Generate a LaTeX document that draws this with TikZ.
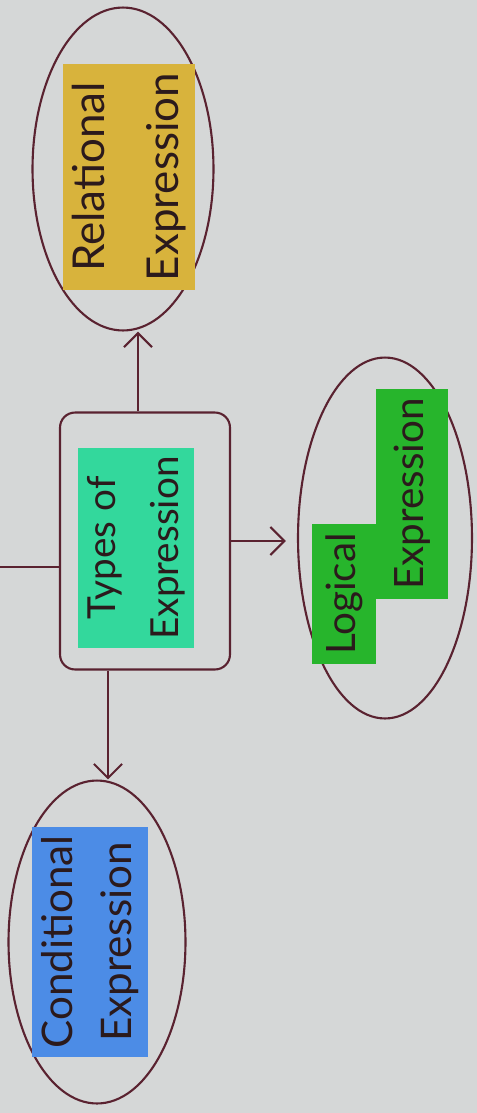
\documentclass[tikz,border=0pt]{standalone}
\usepackage{fontspec}
\setmainfont{Lato}
\usetikzlibrary{shapes.geometric,arrows.meta}
\definecolor{paper}{HTML}{D5D7D7}
\definecolor{ink}{HTML}{5A2230}
\definecolor{pen}{HTML}{2B1A1C}
\definecolor{yellowhl}{HTML}{D8B33C}
\definecolor{mint}{HTML}{33D89C}
\definecolor{greenhl}{HTML}{27B52C}
\definecolor{bluehl}{HTML}{4C8CE6}
\tikzset{
  blob/.style={draw=ink, line width=1.2pt, ellipse, rotate=90},
  box/.style={draw=ink, line width=1.2pt, rectangle, rounded corners=0.3cm, rotate=90},
  hl/.style={rotate=90, text=pen, align=center, inner sep=5pt},
  conn/.style={draw=ink, line width=1.2pt, -{Straight Barb[length=8pt,width=16pt]}}
}

\begin{document}
\begin{tikzpicture}[x=0.02cm,y=-0.02cm]
  \fill[paper] (0,0) rectangle (477,1113);
  \useasboundingbox (0,0) rectangle (477,1113);

  \node[blob, minimum width=6.46cm, minimum height=3.62cm] (rel) at (123,169) {};
  \node[hl, fill=yellowhl, font=\fontsize{25}{42}\selectfont] (reltext) at (129,177) {Relational\\Expression};

  \node[box, minimum width=5.14cm, minimum height=3.4cm] (types) at (145,541) {};
  \node[hl, fill=mint, font=\fontsize{22}{36}\selectfont] (typestext) at (136,548) {Types of\\Expression};

  \node[blob, minimum width=7.22cm, minimum height=3.48cm] (logical) at (385,538) {};
  \node[hl, fill=greenhl, font=\fontsize{23}{30}\selectfont, minimum height=1.3cm] (logicaltext) at (344,594) {Logical};
  \node[hl, fill=greenhl, font=\fontsize{23}{30}\selectfont, minimum height=1.46cm] (exprtext) at (412,494) {Expression};

  \node[blob, minimum width=6.46cm, minimum height=3.54cm] (cond) at (97,942) {};
  \node[hl, fill=bluehl, font=\fontsize{24}{34}\selectfont] (condtext) at (90,942) {Conditional\\Expression};

  \coordinate (edge) at (0,567);
  \draw[draw=ink, line width=1.2pt] (edge) -- (edge -| types.north);
  \draw[conn] ([xshift=-0.14cm]types.east) -- ([xshift=-0.14cm]types.east |- rel.west);
  \draw[conn, shorten >=0.22cm] (types.south) -- (types.south -| logical.north);
  \draw[conn] ([xshift=0.22cm]cond.east |- types.west) -- ([xshift=0.22cm]cond.east);
\end{tikzpicture}
\end{document}
